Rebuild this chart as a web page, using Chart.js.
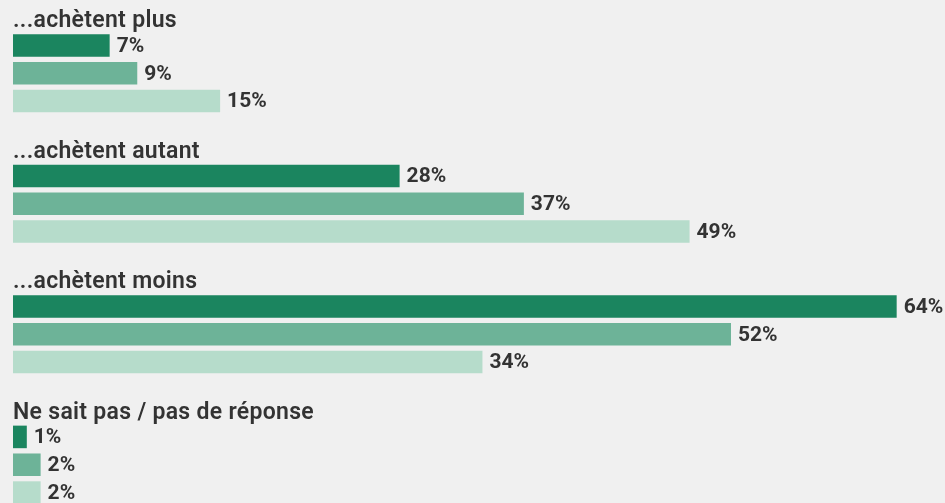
<!DOCTYPE html>
<html>
<head>
<meta charset="utf-8">
<script src="https://cdn.jsdelivr.net/npm/chart.js@4/dist/chart.umd.min.js"></script>
<style>
  html, body { margin: 0; padding: 0; background: #f0f0f0; overflow: hidden; }
  #wrap { width: 945px; height: 503px; overflow: hidden; }
</style>
</head>
<body>
<div id="wrap"><canvas id="myChart" width="945" height="540"></canvas></div>
<script>
const categories = [
  '...achètent plus',
  '...achètent autant',
  '...achètent moins',
  'Ne sait pas / pas de réponse'
];
const serie1 = [7, 28, 64, 1];
const serie2 = [9, 37, 52, 2];
const serie3 = [15, 49, 34, 2];

const colors = ['#1b855f', '#6db398', '#b6dccb'];

// labels : valeurs a droite des barres + titre de chaque groupe
const labelPlugin = {
  id: 'labels',
  afterDatasetsDraw(chart) {
    const ctx = chart.ctx;
    ctx.save();
    ctx.fillStyle = '#333333';
    ctx.textBaseline = 'middle';
    ctx.textAlign = 'left';
    ctx.font = 'bold 21px Roboto';
    chart.data.datasets.forEach((ds, i) => {
      const meta = chart.getDatasetMeta(i);
      meta.data.forEach((bar, j) => {
        ctx.fillText(ds.data[j] + '%', bar.x + 7, bar.y + 1);
      });
    });
    ctx.font = '600 23px Roboto';
    ctx.letterSpacing = '0.3px';
    ctx.textBaseline = 'alphabetic';
    const first = chart.getDatasetMeta(0);
    first.data.forEach((bar, j) => {
      const top = bar.y - bar.height / 2;
      ctx.fillText(categories[j], 13, top - 7);
    });
    ctx.restore();
  }
};

const config = {
  type: 'bar',
  data: {
    labels: categories,
    datasets: [
      { label: 'Série 1', data: serie1, backgroundColor: colors[0] },
      { label: 'Série 2', data: serie2, backgroundColor: colors[1] },
      { label: 'Série 3', data: serie3, backgroundColor: colors[2] }
    ]
  },
  options: {
    indexAxis: 'y',
    responsive: false,
    animation: false,
    categoryPercentage: 0.64,
    barPercentage: 0.81,
    layout: { padding: { top: 8, bottom: 10, left: 13, right: 0 } },
    scales: {
      x: { display: false, min: 0, max: 67.5 },
      y: { display: false }
    },
    plugins: {
      legend: { display: false },
      tooltip: { enabled: false }
    }
  },
  plugins: [labelPlugin]
};

const chart = new Chart(document.getElementById('myChart'), config);
</script>
</body>
</html>
